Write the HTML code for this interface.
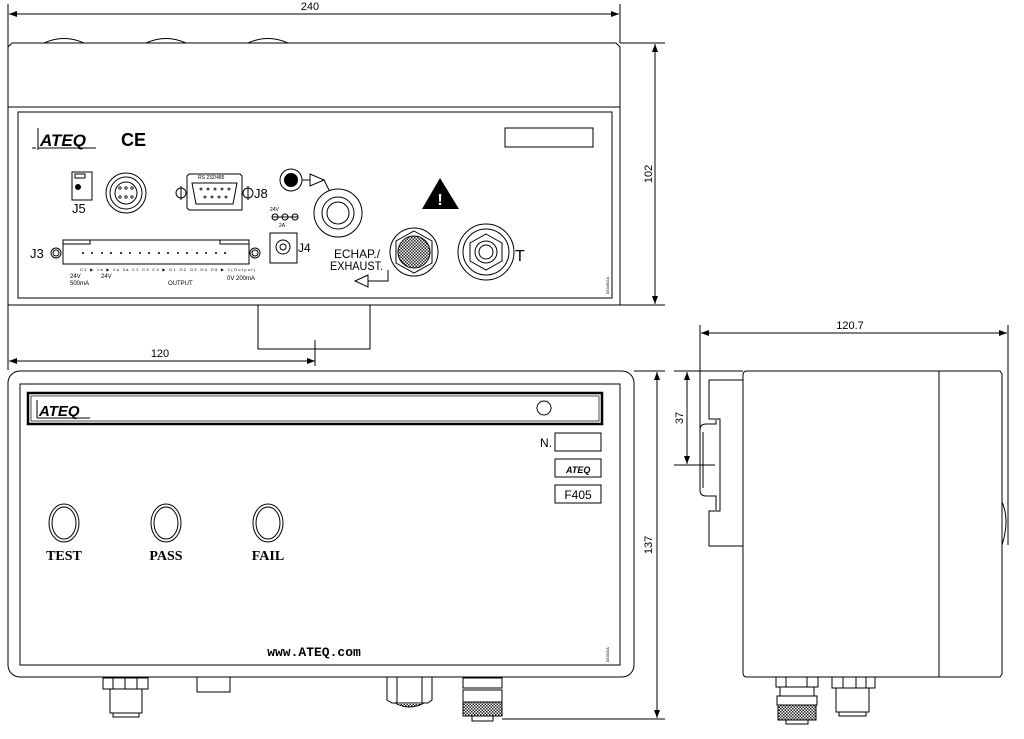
<!DOCTYPE html>
<html><head><meta charset="utf-8"><style>
html,body{margin:0;padding:0;background:#fff;}
svg{display:block;font-family:"Liberation Sans",sans-serif;}
</style></head><body>
<svg width="1024" height="739" viewBox="0 0 1024 739" xmlns="http://www.w3.org/2000/svg">
<defs>
<pattern id="kn" width="3" height="3" patternUnits="userSpaceOnUse"><rect width="3" height="3" fill="#fff"/><rect width="1.5" height="1.5" fill="#222"/><rect x="1.5" y="1.5" width="1.5" height="1.5" fill="#222"/></pattern>
<marker id="ar" markerWidth="8" markerHeight="6" refX="8" refY="3" orient="auto-start-reverse"><path d="M0,0 L8,3 L0,6z" fill="#000"/></marker>
</defs>
<g fill="none" stroke="#000" stroke-width="1">
<line x1="8" y1="4" x2="8" y2="370"/><line x1="620" y1="4" x2="620" y2="43"/>
<line x1="9" y1="14" x2="619" y2="14" marker-start="url(#ar)" marker-end="url(#ar)"/>
<path d="M12,43 L616,43 L620,47 L620,305 L8,305 L8,47 Z"/>
<path d="M44,43 Q64,34 84,43 M146,43 Q166,34 186,43 M248,43 Q268,34 288,43"/>
<line x1="8" y1="107" x2="620" y2="107"/>
<rect x="18" y="112" width="594" height="186"/>
<path d="M258,305 L258,349 L370,349 L370,305"/>
<line x1="620" y1="43" x2="665" y2="43"/><line x1="620" y1="305" x2="665" y2="305"/>
<line x1="655" y1="44" x2="655" y2="304" marker-start="url(#ar)" marker-end="url(#ar)"/>
<line x1="38" y1="128" x2="38" y2="150"/><line x1="38" y1="148" x2="96" y2="148"/><line x1="32" y1="148" x2="36" y2="148"/>
<rect x="505" y="128" width="88" height="19"/>
<rect x="72" y="172" width="20" height="28"/><rect x="75" y="174" width="10" height="4"/>
<circle cx="126" cy="193" r="20"/><circle cx="126" cy="193" r="16"/><circle cx="126" cy="193" r="11"/>
<path d="M189,174 L240,174 L242,176 L242,210 L189,210 L187,208 L187,176 Z"/>
<path d="M192,183 L237,183 L233,204 L196,204 Z"/>
<circle cx="181" cy="193" r="5"/><line x1="181" y1="186" x2="181" y2="200"/>
<circle cx="248" cy="193" r="5"/><line x1="248" y1="186" x2="248" y2="200"/>
<circle cx="291" cy="180" r="11"/>
<path d="M302,180 L310,180 M310,174 L324,180 L310,186 Z M324,180 L329,190"/>
<circle cx="338" cy="213" r="24"/><circle cx="338" cy="213" r="16"/><circle cx="338" cy="213" r="11"/>
<rect x="63" y="240" width="186" height="24"/><path d="M63,244 L90,244 L90,240 M249,244 L220,244 L220,240"/>
<circle cx="56" cy="253" r="5"/><circle cx="56" cy="253" r="3"/>
<circle cx="255" cy="253" r="5"/><circle cx="255" cy="253" r="3"/>
<rect x="270" y="233" width="27" height="30"/><circle cx="283" cy="247" r="7"/><circle cx="283" cy="247" r="3"/>
<circle cx="414" cy="252" r="24"/><path d="M414,231 L432,241 L432,263 L414,273 L396,263 L396,241 Z"/>
<circle cx="486" cy="252" r="28"/><circle cx="486" cy="252" r="23"/>
<path d="M486,234 L502,243 L502,261 L486,270 L470,261 L470,243 Z"/><circle cx="486" cy="252" r="11"/><circle cx="486" cy="252" r="7"/>
<path d="M388,270 L388,281 L368,281 M368,275 L355,281 L368,287 Z"/>
<path d="M272,217 L298,217 M275,217 m-3,0 a3,3 0 1,0 6,0 a3,3 0 1,0 -6,0"/>
<circle cx="285" cy="217" r="3"/><circle cx="295" cy="217" r="3"/>
</g>
<circle cx="291" cy="180" r="7" fill="#000"/>
<circle cx="414" cy="252" r="16" fill="url(#kn)" stroke="#000"/>
<path d="M440,178 L459,209 L422,209 Z" fill="#000"/><text x="440" y="205" font-size="16" fill="#fff" text-anchor="middle" font-weight="bold">!</text>
<g fill="#000">
<text x="40" y="146" font-size="17" font-weight="bold" font-style="italic">ATEQ</text>
<text x="121" y="146" font-size="18" font-weight="bold">CE</text>
<text x="72" y="213" font-size="13">J5</text>
<text x="198" y="179" font-size="5">RS 232/485</text>
<text x="254" y="198" font-size="13">J8</text>
<text x="30" y="258" font-size="13">J3</text>
<text x="298" y="252" font-size="12">J4</text>
<text x="270" y="211" font-size="5">24V</text><text x="279" y="227" font-size="5">2A</text>
<text x="334" y="258" font-size="12" textLength="46" lengthAdjust="spacingAndGlyphs">ECHAP./</text>
<text x="330" y="270" font-size="12" textLength="53" lengthAdjust="spacingAndGlyphs">EXHAUST.</text>
<text x="515" y="261" font-size="16">T</text>
<text x="70" y="278" font-size="6">24V</text><text x="70" y="285" font-size="6">500mA</text>
<text x="101" y="278" font-size="6">24V</text>
<text x="168" y="285" font-size="6">OUTPUT</text>
<text x="227" y="280" font-size="6">0V  200mA</text>
<text x="80" y="271" font-size="4" textLength="175">C1 ▶ 1a ▶ 2a 3a C2 C3 C4 ▶ O1 O2 O3 O4 O5 ▶ 1(Output)</text>
<circle cx="78" cy="187" r="3"/>
</g>
<g stroke="#000" fill="none" stroke-width="0.8">
<circle cx="120" cy="188" r="1.2"/><circle cx="126" cy="188" r="1.2"/><circle cx="132" cy="188" r="1.2"/><circle cx="120" cy="197" r="1.2"/><circle cx="126" cy="197" r="1.2"/><circle cx="132" cy="197" r="1.2"/>
<circle cx="201" cy="189" r="1"/><circle cx="208" cy="189" r="1"/><circle cx="215" cy="189" r="1"/><circle cx="222" cy="189" r="1"/><circle cx="229" cy="189" r="1"/>
<circle cx="205" cy="197" r="1"/><circle cx="212" cy="197" r="1"/><circle cx="219" cy="197" r="1"/><circle cx="226" cy="197" r="1"/>
</g>
<g fill="#000">
<circle cx="83" cy="253" r="1"/><circle cx="92" cy="253" r="1"/><circle cx="102" cy="253" r="1"/><circle cx="111" cy="253" r="1"/><circle cx="121" cy="253" r="1"/><circle cx="130" cy="253" r="1"/><circle cx="140" cy="253" r="1"/><circle cx="149" cy="253" r="1"/><circle cx="159" cy="253" r="1"/><circle cx="168" cy="253" r="1"/><circle cx="178" cy="253" r="1"/><circle cx="187" cy="253" r="1"/><circle cx="197" cy="253" r="1"/><circle cx="206" cy="253" r="1"/><circle cx="216" cy="253" r="1"/><circle cx="225" cy="253" r="1"/>
</g>
<g fill="none" stroke="#000">
<line x1="9" y1="361" x2="315" y2="361" marker-start="url(#ar)" marker-end="url(#ar)"/>
<line x1="315" y1="340" x2="315" y2="366"/>
<rect x="8" y="371" width="626" height="306" rx="12"/>
<rect x="20" y="384" width="600" height="281"/>
<rect x="28" y="393" width="574" height="31" stroke-width="2.5"/>
<rect x="31" y="396" width="568" height="25" stroke-width="0.7"/>
<circle cx="544" cy="408" r="7"/>
<rect x="555" y="433" width="46" height="18"/>
<rect x="555" y="459" width="46" height="18"/>
<rect x="555" y="485" width="46" height="18"/>
<ellipse cx="64" cy="523" rx="15" ry="19"/><ellipse cx="64" cy="523" rx="12" ry="16"/>
<ellipse cx="166" cy="523" rx="15" ry="19"/><ellipse cx="166" cy="523" rx="12" ry="16"/>
<ellipse cx="268" cy="523" rx="15" ry="19"/><ellipse cx="268" cy="523" rx="12" ry="16"/>
<line x1="37" y1="400" x2="37" y2="418"/><line x1="37" y1="418" x2="90" y2="418"/>
<rect x="103" y="678" width="45" height="11"/><path d="M113,678 V689 M125,678 V689 M137,678 V689"/>
<rect x="110" y="689" width="32" height="24"/><rect x="113" y="713" width="26" height="4"/>
<rect x="197" y="677" width="33" height="15"/>
<path d="M387,677 L387,700 L392,703 L428,703 L432,700 L432,677 M397,677 V703 M422,677 V703"/>
<rect x="463" y="678" width="39" height="10"/><rect x="463" y="690" width="39" height="12"/>
<rect x="463" y="702" width="39" height="14" fill="url(#kn)"/><rect x="472" y="716" width="21" height="5"/>
<path d="M395,703 Q409,711 424,703" fill="url(#kn)"/>
<line x1="634" y1="371" x2="665" y2="371"/><line x1="502" y1="719" x2="665" y2="719"/>
<line x1="657" y1="372" x2="657" y2="718" marker-start="url(#ar)" marker-end="url(#ar)"/>
<line x1="700" y1="325" x2="700" y2="470"/><line x1="1008" y1="325" x2="1008" y2="545"/>
<line x1="701" y1="333" x2="1007" y2="333" marker-start="url(#ar)" marker-end="url(#ar)"/>
<path d="M747,371 L1000,371 L1002,374 L1002,674 L1000,677 L747,677 Q743,677 743,673 L743,375 Q743,371 747,371 Z"/>
<line x1="939" y1="371" x2="939" y2="677"/>
<path d="M1002,502 Q1010,520 1002,545"/>
<path d="M743,380 L709,380 L709,419 L720,419 L720,511 L709,511 L709,546 L743,546"/>
<path d="M700,430 Q700,424 706,424 L716,424 L716,420 M700,430 L700,490 Q700,496 706,496 L716,496 L716,510 M703,432 L703,488"/>
<line x1="674" y1="371" x2="743" y2="371"/><line x1="674" y1="465" x2="715" y2="465"/>
<line x1="687" y1="372" x2="687" y2="464" marker-start="url(#ar)" marker-end="url(#ar)"/>
<rect x="776" y="677" width="42" height="10"/><path d="M786,677 V687 M807,677 V687"/>
<rect x="780" y="687" width="34" height="9"/><rect x="777" y="696" width="40" height="9"/>
<rect x="778" y="705" width="38" height="15" fill="url(#kn)"/><rect x="786" y="720" width="22" height="4"/>
<rect x="832" y="677" width="43" height="11"/><path d="M843,677 V688 M856,677 V688 M866,677 V688"/>
<rect x="836" y="688" width="33" height="24"/><rect x="839" y="712" width="27" height="4"/>
</g>
<g fill="#000">
<text x="310" y="10" font-size="11" text-anchor="middle">240</text>
<text x="160" y="357" font-size="11" text-anchor="middle">120</text>
<text x="850" y="329" font-size="11" text-anchor="middle">120.7</text>
<text transform="translate(652,174) rotate(-90)" font-size="11" text-anchor="middle">102</text>
<text transform="translate(652,545) rotate(-90)" font-size="11" text-anchor="middle">137</text>
<text transform="translate(683,418) rotate(-90)" font-size="11" text-anchor="middle">37</text>
<text x="39" y="416" font-size="15" font-weight="bold" font-style="italic">ATEQ</text>
<text x="540" y="447" font-size="12">N.</text>
<text x="566" y="473" font-size="9" font-weight="bold" font-style="italic">ATEQ</text>
<text x="578" y="499" font-size="12" text-anchor="middle">F405</text>
<g font-family="Liberation Serif,serif" font-weight="bold" font-size="14" text-anchor="middle">
<text x="64" y="560">TEST</text><text x="166" y="560">PASS</text><text x="268" y="560">FAIL</text>
</g>
<text x="314" y="656" font-family="Liberation Mono,monospace" font-weight="bold" font-size="13" text-anchor="middle">www.ATEQ.com</text>
<text transform="translate(609,294) rotate(-90)" font-size="4">05345/2A</text>
<text transform="translate(609,662) rotate(-90)" font-size="4">05332/A</text>
</g>
</svg>
</body></html>
